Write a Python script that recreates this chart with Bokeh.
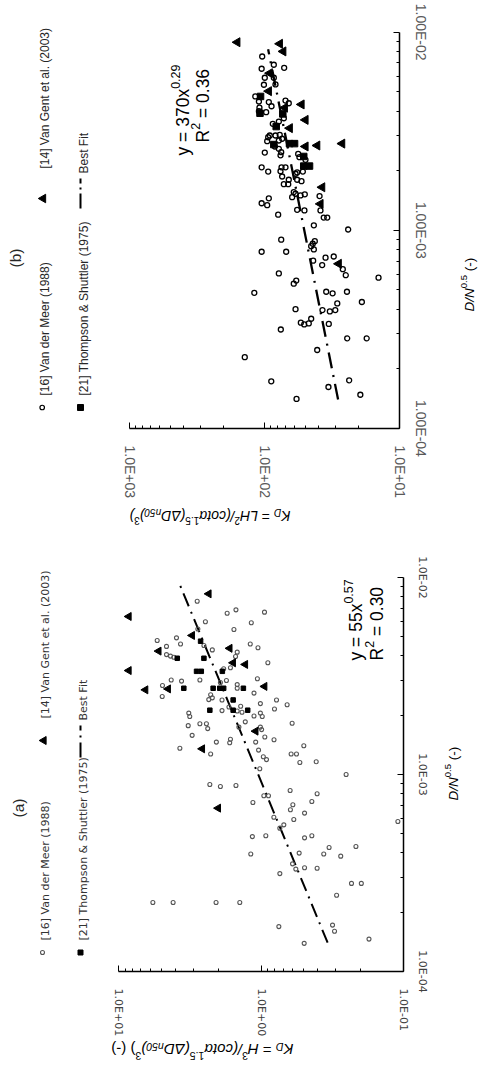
import math
from bokeh.plotting import figure
from bokeh.models import Range1d, FixedTicker, Label, CustomJSTickFormatter, LogAxis
from bokeh.layouts import column
from bokeh.embed import file_html
from bokeh.resources import INLINE

# ---------------- panel (b) data ----------------
b_vdm_kd = [104, 85.3, 105, 71.5, 99.5, 85.3, 101, 82.9, 117, 110, 92.9, 109, 88.7, 69.9, 66.1,
            110, 97.2, 78.3, 71.9, 86.8, 91.4, 93.9, 82.9, 77.1, 74.0, 95.5, 78.3, 83.9, 78.3, 75.2,
            99.5, 76.1, 56.3, 55.1, 49.7, 105, 93.9, 74.8, 69.9, 76.1, 58.9, 57.3, 52.0, 74.0, 66.1,
            57.3, 53.2, 71.9, 66.7, 60.7, 58.9, 54.1, 50.3, 62.4, 39.1, 92.9, 105, 95.5, 57.3, 50.6,
            38.5, 79.2, 36.4, 34.3, 43.1, 24.0, 75.2, 42.4, 43.9, 45.1, 43.1, 105, 69.1, 35.3, 30.7,
            43.6, 37.4, 26.3, 25.0, 78.3, 58.2, 60.7, 14.3, 119, 34.9, 31.3, 24.5, 28.9, 19.0, 58.9,
            37.2, 32.8, 29.9, 45.1, 53.8, 50.8, 47.0, 33.4, 75.7, 24.4, 17.5, 40.7, 140, 89.1, 33.6,
            23.6, 19.5, 57.9]
b_vdm_dn = [7.54e-3, 6.85e-3, 6.54e-3, 6.61e-3, 5.89e-3, 5.89e-3, 5.43e-3, 5.45e-3, 4.74e-3, 4.47e-3,
            4.44e-3, 4.16e-3, 4.23e-3, 4.52e-3, 4.38e-3, 3.99e-3, 3.95e-3, 3.54e-3, 3.68e-3, 3.45e-3,
            3.01e-3, 2.95e-3, 3.01e-3, 3.03e-3, 2.90e-3, 2.82e-3, 2.84e-3, 2.65e-3, 2.58e-3, 2.48e-3,
            2.47e-3, 2.39e-3, 2.43e-3, 2.34e-3, 2.27e-3, 2.08e-3, 1.98e-3, 2.08e-3, 2.08e-3, 1.99e-3,
            1.93e-3, 1.96e-3, 1.98e-3, 1.87e-3, 1.80e-3, 1.80e-3, 1.77e-3, 1.71e-3, 1.71e-3, 1.56e-3,
            1.53e-3, 1.50e-3, 1.52e-3, 1.47e-3, 1.49e-3, 1.45e-3, 1.37e-3, 1.34e-3, 1.27e-3, 1.26e-3,
            1.26e-3, 1.20e-3, 1.16e-3, 1.16e-3, 1.06e-3, 1.01e-3, 8.97e-4, 8.82e-4, 8.56e-4, 8.32e-4,
            8.01e-4, 7.8e-4, 7.8e-4, 7.28e-4, 7.38e-4, 7.03e-4, 6.68e-4, 6.37e-4, 5.94e-4, 6.06e-4,
            5.58e-4, 5.38e-4, 5.77e-4, 4.84e-4, 4.9e-4, 4.81e-4, 4.9e-4, 4.28e-4, 4.35e-4, 4.0e-4,
            3.96e-4, 3.90e-4, 3.96e-4, 3.58e-4, 3.42e-4, 3.35e-4, 3.39e-4, 3.37e-4, 3.16e-4, 2.85e-4,
            2.85e-4, 2.49e-4, 2.29e-4, 1.73e-4, 1.62e-4, 1.75e-4, 1.48e-4, 1.41e-4]
b_vg_kd = [159, 77, 72.6, 91.4, 92.9, 53.2, 70.7, 49.7, 65.0, 49.7, 40.7, 26.6, 37.4, 38.5, 28.2]
b_vg_dn = [8.9e-3, 8.74e-3, 8.0e-3, 6.21e-3, 5.04e-3, 4.32e-3, 4.16e-3, 3.61e-3, 3.28e-3, 2.65e-3,
           2.68e-3, 2.74e-3, 1.65e-3, 1.36e-3, 6.78e-4]
b_ts_kd = [107, 108, 73.2, 81.9, 85.3, 65.3, 59.9, 51.2, 51.2, 46.4]
b_ts_dn = [4.74e-3, 3.9e-3, 3.87e-3, 3.34e-3, 2.71e-3, 2.74e-3, 2.74e-3, 2.36e-3, 2.11e-3, 2.11e-3]
b_fit_kd = [28.5, 94]
b_fit_dn = [1.4e-4, 8.2e-3]

# ---------------- panel (a) data ----------------
a_vdm_kd = [2.81, 1.73, 1.50, 0.945, 2.46, 1.17, 1.55, 2.78, 5.37, 3.93, 3.68, 2.52, 4.62, 2.20, 1.19,
            1.05, 1.47, 1.51, 4.62, 4.33, 4.10, 0.895, 1.83, 1.64, 1.06, 4.28, 3.62, 4.93, 2.69, 1.75,
            1.93, 1.47, 1.47, 4.95, 1.12, 2.26, 2.20, 2.33, 1.88, 0.778, 0.655, 1.68, 1.39, 1.01, 1.88,
            1.47, 1.36, 0.804, 3.22, 3.17, 1.01, 1.12, 0.98, 0.604, 1.29, 3.25, 2.69, 2.42, 2.37, 3.05,
            1.43, 1.01, 0.99, 0.94, 0.81, 1.09, 1.64, 1.66, 2.06, 3.72, 2.26, 0.50, 0.614, 0.563, 1.04,
            0.963, 0.915, 0.533, 0.409, 0.252, 2.29, 1.93, 1.50, 1.02, 0.624, 0.403, 0.955, 0.886, 1.14,
            0.597, 0.439, 0.621, 0.812, 0.494, 0.588, 0.691, 0.737, 0.109, 1.15, 0.925, 0.494, 0.439,
            0.332, 0.215, 1.18, 0.539, 0.362, 0.275, 0.600, 0.569, 0.494, 0.403, 0.737, 0.231, 0.197,
            0.294, 5.76, 4.15, 2.07, 1.41, 0.749, 0.314, 0.304, 0.497, 0.174]
a_vdm_dn = [7.58e-3, 6.59e-3, 6.85e-3, 6.67e-3, 5.96e-3, 5.89e-3, 5.45e-3, 5.48e-3, 4.79e-3, 4.94e-3,
            4.60e-3, 4.52e-3, 4.47e-3, 4.29e-3, 4.60e-3, 4.40e-3, 4.18e-3, 3.97e-3, 4.06e-3, 3.99e-3,
            3.94e-3, 3.69e-3, 3.44e-3, 3.48e-3, 3.06e-3, 3.02e-3, 2.98e-3, 2.83e-3, 3.02e-3, 3.0e-3,
            2.93e-3, 2.86e-3, 2.74e-3, 2.49e-3, 2.59e-3, 2.54e-3, 2.45e-3, 2.40e-3, 2.39e-3, 2.39e-3,
            2.26e-3, 2.20e-3, 2.22e-3, 2.29e-3, 2.11e-3, 2.10e-3, 2.07e-3, 2.15e-3, 2.05e-3, 1.97e-3,
            2.05e-3, 1.98e-3, 1.97e-3, 1.82e-3, 1.85e-3, 1.77e-3, 1.81e-3, 1.81e-3, 1.71e-3, 1.58e-3,
            1.74e-3, 1.74e-3, 1.69e-3, 1.55e-3, 1.50e-3, 1.46e-3, 1.51e-3, 1.45e-3, 1.46e-3, 1.36e-3,
            1.27e-3, 1.40e-3, 1.27e-3, 1.27e-3, 1.33e-3, 1.23e-3, 1.19e-3, 1.15e-3, 1.16e-3, 1.0e-3,
            8.89e-4, 8.69e-4, 8.79e-4, 1.07e-3, 8.3e-4, 7.98e-4, 7.8e-4, 7.8e-4, 7.21e-4, 7.02e-4,
            7.3e-4, 6.62e-4, 6.07e-4, 6.37e-4, 5.91e-4, 5.55e-4, 5.34e-4, 5.77e-4, 4.84e-4, 4.89e-4,
            4.77e-4, 4.89e-4, 4.26e-4, 4.31e-4, 3.95e-4, 3.99e-4, 3.95e-4, 3.85e-4, 3.52e-4, 3.31e-4,
            3.36e-4, 3.34e-4, 3.14e-4, 2.8e-4, 2.8e-4, 2.44e-4, 2.24e-4, 2.24e-4, 2.24e-4, 2.24e-4,
            1.69e-4, 1.72e-4, 1.60e-4, 1.39e-4, 1.46e-4]
a_vg_kd = [2.33, 3.05, 5.24, 1.66, 1.57, 1.29, 6.49, 4.5, 0.944, 1.09, 2.59, 8.5, 8.5, 2.0]
a_vg_dn = [8.26e-3, 5.08e-3, 4.23e-3, 4.37e-3, 3.69e-3, 3.62e-3, 2.69e-3, 2.72e-3, 2.8e-3, 1.66e-3,
           1.35e-3, 3.37e-3, 6.34e-3, 6.75e-4]
a_ts_kd = [2.66, 3.88, 2.52, 2.84, 2.63, 1.87, 3.49, 2.17, 1.95, 1.83, 1.33, 1.57, 2.29, 1.57, 1.24]
a_ts_dn = [4.75e-3, 3.89e-3, 3.89e-3, 3.34e-3, 3.34e-3, 3.34e-3, 2.74e-3, 2.74e-3, 2.74e-3, 2.74e-3,
           2.74e-3, 2.39e-3, 2.12e-3, 2.12e-3, 2.12e-3]
a_fit_kd = [0.34, 3.7]
a_fit_dn = [1.4e-4, 9.1e-3]

# ---------------- ticks / labels ----------------
dn_ticks = [1e-4, 1e-3, 1e-2]
dn_labels_b = ["1.00E-04", "1.00E-03", "1.00E-02"]
dn_labels_a = ["1.0E-04", "1.0E-03", "1.0E-02"]
kd_ticks_b = [10, 100, 1000]
kd_labels_b = ["1.0E+01", "1.0E+02", "1.0E+03"]
kd_ticks_a = [0.1, 1, 10]
kd_labels_a = ["1.0E-01", "1.0E+00", "1.0E+01"]
series_names = ["[16] Van der Meer (1988)", "[14] Van Gent et al. (2003)",
                "[21] Thompson & Shuttler (1975)", "Best Fit"]
eq_b = ("y = 370x", "0.29", "0.36")
eq_a = ("y = 55x", "0.57", "0.30")

LIB = "Liberation Sans"
DJV = "DejaVu Sans"
HALF = math.pi / 2
WIDTH = 480

W = {' ': .278, '(': .333, ')': .333, '[': .278, ']': .278, '-': .333, '=': .584, '/': .278,
     '.': .278, '&': .667, 'A': .667, 'D': .722, 'E': .667, 'H': .722, 'K': .667, 'L': .556,
     'N': .722, 'R': .722, 'a': .556, 'c': .5, 'o': .556, 't': .278, 'n': .556, 'x': .5,
     'y': .5, 'α': .578, 'Δ': .668}


def tw(s):
    return sum(W.get(c, 0.556) for c in s)


def make_mapper(xref, yref):
    (ax1, lx1), (ax2, lx2) = xref
    (ay1, ly1), (ay2, ly2) = yref

    def f(ix, iy):
        lx = lx1 + (ix - ax1) * (lx2 - lx1) / (ax2 - ax1)
        ly = ly1 + (iy - ay1) * (ly2 - ly1) / (ay2 - ay1)
        return 10 ** lx, 10 ** ly
    return f


def rich(fig, to_data, x0, y0, angle, segs, font, color="black"):
    dx, dy = math.cos(angle), -math.sin(angle)
    ux, uy = -math.sin(angle), -math.cos(angle)
    adv = 0.0
    for text, size, shift, style in segs:
        lead = len(text) - len(text.lstrip(" "))
        adv += tw(text[:lead]) * size
        body = text.strip(" ")
        ix = x0 + dx * adv + ux * shift
        iy = y0 + dy * adv + uy * shift
        X, Y = to_data(ix, iy)
        fig.add_layout(Label(x=X, y=Y, text=body, angle=angle, text_align="left",
                             text_baseline="alphabetic", text_font=font,
                             text_font_size=f"{size}px", text_font_style=style,
                             text_color=color))
        adv += tw(text[lead:]) * size


def fmt(tv, tl):
    return CustomJSTickFormatter(args=dict(tv=tv, tl=tl), code="""
        for (let i = 0; i < tv.length; i++) {
            if (Math.abs(Math.log10(tick) - Math.log10(tv[i])) < 1e-6) { return tl[i]; }
        }
        return "";
    """)


def minors(decades):
    return [m * 10.0 ** e for e in decades for m in range(2, 10)]


def panel(top, bottom, mapper, kd_t, kd_l, kd_dec, dn_l, font, fsize, color, stand):
    x0, _ = mapper(0, top)
    x1, _ = mapper(WIDTH, top)
    _, y0 = mapper(0, bottom)
    _, y1 = mapper(0, top)
    p = figure(width=WIDTH, height=bottom - top, x_axis_type="log", y_axis_type="log",
               x_range=Range1d(x0, x1), y_range=Range1d(y0, y1),
               x_axis_location=None, y_axis_location=None, title=None,
               toolbar_location=None, output_backend="svg",
               min_border_left=0, min_border_right=0, min_border_top=0, min_border_bottom=0)
    p.outline_line_color = None
    p.grid.visible = False
    xa = LogAxis(fixed_location=min(dn_ticks), bounds=(min(kd_t), max(kd_t)),
                 ticker=FixedTicker(ticks=kd_t, minor_ticks=minors(kd_dec)),
                 formatter=fmt(kd_t, kd_l))
    ya = LogAxis(fixed_location=min(kd_t), bounds=(min(dn_ticks), max(dn_ticks)),
                 ticker=FixedTicker(ticks=dn_ticks, minor_ticks=minors([-4, -3])),
                 formatter=fmt(dn_ticks, dn_l))
    for ax in (xa, ya):
        ax.axis_line_color = "black"
        ax.axis_line_width = 1.5
        ax.major_tick_line_color = "black"
        ax.minor_tick_line_color = "black"
        ax.major_tick_in = 6
        ax.major_tick_out = 0
        ax.minor_tick_in = 3
        ax.minor_tick_out = 0
        ax.major_label_text_font = font
        ax.major_label_text_font_size = fsize
        ax.major_label_text_color = color
        ax.major_label_orientation = "vertical"
    xa.major_label_standoff = stand[0]
    ya.major_label_standoff = stand[1]
    p.add_layout(xa, "below")
    p.add_layout(ya, "right")
    return p


# ================= panel (b) =================
map_b = make_mapper(((129, 3), (399, 1)), ((31.7, -2), (428, -4)))
fig_b = panel(0, 540, map_b, kd_ticks_b, kd_labels_b, [1, 2], dn_labels_b, LIB, "14px", "#595959", (17, 13))
fig_b.line(b_fit_kd, b_fit_dn, line_color="black", line_width=2.3, line_dash="16 7 2 7")
fig_b.scatter(b_vdm_kd, b_vdm_dn, marker="circle", size=5, fill_color=None,
              line_color="black", line_width=1.3)
fig_b.scatter(b_ts_kd, b_ts_dn, marker="square", size=6.5, fill_color="black", line_color="black")
fig_b.scatter(b_vg_kd, b_vg_dn, marker="triangle", size=9, angle=HALF,
              fill_color="black", line_color="black")
rich(fig_b, map_b, 182.5, 155, HALF, [(eq_b[0], 17.5, 0, "normal"), (eq_b[1], 12.5, 7.5, "normal")], LIB)
rich(fig_b, map_b, 202, 142, HALF, [("R", 17.5, 0, "normal"), ("2", 12.5, 7.5, "normal"),
                                     (" = " + eq_b[2], 17.5, 0, "normal")], LIB)
rich(fig_b, map_b, 469, 311, HALF, [("D/N", 13.5, 0, "italic"), ("0.5", 9.5, 5.5, "normal"),
                                     (" (-)", 13.5, 0, "normal")], LIB)
rich(fig_b, map_b, 290, 515, math.pi,
     [("K", 14, 0, "italic"), ("D", 10, -3, "italic"), (" = LH", 14, 0, "italic"),
      ("2", 10, 5.5, "normal"), ("/(cotα", 14, 0, "italic"), ("1.5", 10, 5.5, "normal"),
      ("(ΔD", 14, 0, "italic"), ("n50", 10, -3, "italic"), (")", 14, 0, "italic"),
      ("3", 10, 5.5, "normal"), (")", 14, 0, "italic")], LIB)
# legend (b)
lx, ly = zip(map_b(41.7, 407))
fig_b.scatter(lx, ly, marker="circle", size=4.5, fill_color=None, line_color="black", line_width=1.2)
lx, ly = zip(map_b(80, 407))
fig_b.scatter(lx, ly, marker="square", size=6, fill_color="black", line_color="black")
lx, ly = zip(map_b(42.7, 198))
fig_b.scatter(lx, ly, marker="triangle", size=8.5, angle=HALF, fill_color="black", line_color="black")
lx, ly = zip(map_b(80, 208), map_b(80, 178))
fig_b.line(lx, ly, line_color="black", line_width=2, line_dash="15 4 2 4 6")
rich(fig_b, map_b, 44.5, 395, HALF, [(series_names[0], 12, 0, "normal")], LIB, "#262626")
rich(fig_b, map_b, 44.5, 168, HALF, [(series_names[1], 12, 0, "normal")], LIB, "#262626")
rich(fig_b, map_b, 83, 395, HALF, [(series_names[2], 12, 0, "normal")], LIB, "#262626")
rich(fig_b, map_b, 83, 173, HALF, [(series_names[3], 12, 0, "normal")], LIB, "#262626")
rich(fig_b, map_b, 15, 267, HALF, [("(b)", 15.5, 0, "normal")], LIB, "#262626")

# ================= panel (a) =================
map_a = make_mapper(((118.3, 1), (402.7, -1)), ((577, -2), (971, -4)))
fig_a = panel(540, 1066, map_a, kd_ticks_a, kd_labels_a, [-1, 0], dn_labels_a, DJV, "11px", "#404040", (17, 13))
fig_a.line(a_fit_kd, a_fit_dn, line_color="black", line_width=2, line_dash="14 6 2 6")
fig_a.scatter(a_vdm_kd, a_vdm_dn, marker="circle", size=4, fill_color=None,
              line_color="#555555", line_width=1.1)
fig_a.scatter(a_ts_kd, a_ts_dn, marker="square", size=4.5, fill_color="black", line_color="black")
fig_a.scatter(a_vg_kd, a_vg_dn, marker="triangle", size=8, angle=HALF,
              fill_color="black", line_color="black")
rich(fig_a, map_a, 355.5, 660, HALF, [(eq_a[0], 17.5, 0, "normal"), (eq_a[1], 12.5, 7.5, "normal")], LIB)
rich(fig_a, map_a, 376, 660, HALF, [("R", 17.5, 0, "normal"), ("2", 12.5, 7.5, "normal"),
                                     (" = " + eq_a[2], 17.5, 0, "normal")], LIB)
rich(fig_a, map_a, 453, 800, HALF, [("D/N", 13.5, 0, "italic"), ("0.5", 9.5, 5.5, "normal"),
                                     (" (-)", 13.5, 0, "normal")], LIB)
rich(fig_a, map_a, 293, 1049, math.pi,
     [("K", 15, 0, "italic"), ("D", 10.5, -3, "italic"), (" = H", 15, 0, "italic"),
      ("3", 10.5, 6, "normal"), ("/(cotα", 15, 0, "italic"), ("1.5", 10.5, 6, "normal"),
      ("(ΔD", 15, 0, "italic"), ("n50", 10.5, -3, "italic"), (")", 15, 0, "italic"),
      ("3", 10.5, 6, "normal"), (") (-)", 15, 0, "normal")], LIB)
# legend (a)
lx, ly = zip(map_a(42, 952))
fig_a.scatter(lx, ly, marker="circle", size=4, fill_color=None, line_color="#555555", line_width=1.1)
lx, ly = zip(map_a(80, 952))
fig_a.scatter(lx, ly, marker="square", size=5, fill_color="black", line_color="black")
lx, ly = zip(map_a(43.3, 740))
fig_a.scatter(lx, ly, marker="triangle", size=8, angle=HALF, fill_color="black", line_color="black")
lx, ly = zip(map_a(80, 757), map_a(80, 725))
fig_a.line(lx, ly, line_color="black", line_width=2, line_dash="15 5 2 5 6")
rich(fig_a, map_a, 44.5, 940, HALF, [(series_names[0], 11, 0, "normal")], DJV, "#333333")
rich(fig_a, map_a, 44.5, 718, HALF, [(series_names[1], 11, 0, "normal")], DJV, "#333333")
rich(fig_a, map_a, 83, 940, HALF, [(series_names[2], 11, 0, "normal")], DJV, "#333333")
rich(fig_a, map_a, 83, 720, HALF, [(series_names[3], 11, 0, "normal")], DJV, "#333333")
rich(fig_a, map_a, 18, 817, HALF, [("(a)", 15.5, 0, "normal")], LIB, "#262626")

layout = column(fig_b, fig_a)
open("out.html", "w").write(file_html(layout, INLINE))
